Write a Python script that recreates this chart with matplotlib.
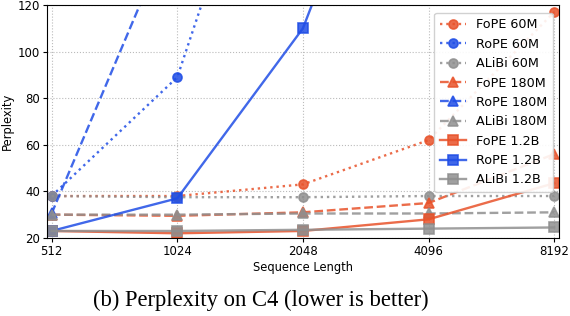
import matplotlib
matplotlib.use("Agg")
import matplotlib.pyplot as plt

seq_len = [512, 1024, 2048, 4096, 8192]

fope_60m = [38, 38, 43, 62, 117]
rope_60m = [38, 89, 250, 600, 1200]
alibi_60m = [38, 37.5, 37.5, 38, 38]

fope_180m = [30, 29.5, 31, 35, 56]
rope_180m = [30.5, 158, 400, 900, 1500]
alibi_180m = [30, 30, 30.5, 30.5, 31]

fope_1b = [23, 22, 23, 28, 43.5]
rope_1b = [23, 37, 110, 250, 600]
alibi_1b = [23, 23, 23.5, 24, 24.5]

orange = "#e8522a"
blue = "#1f4de6"
gray = "#8f8f8f"

series = [
    ("FoPE 60M", fope_60m, orange, ":", "o"),
    ("RoPE 60M", rope_60m, blue, ":", "o"),
    ("ALiBi 60M", alibi_60m, gray, ":", "o"),
    ("FoPE 180M", fope_180m, orange, "--", "^"),
    ("RoPE 180M", rope_180m, blue, "--", "^"),
    ("ALiBi 180M", alibi_180m, gray, "--", "^"),
    ("FoPE 1.2B", fope_1b, orange, "-", "s"),
    ("RoPE 1.2B", rope_1b, blue, "-", "s"),
    ("ALiBi 1.2B", alibi_1b, gray, "-", "s"),
]

fig = plt.figure(figsize=(5.7, 3.16), dpi=100)
ax = fig.add_axes([0.083, 0.247, 0.898, 0.737])

for name, vals, c, ls, m in series:
    ax.plot(seq_len, vals, linestyle=ls, marker=m, color=c, label=name,
            linewidth=1.7, markersize=6.5, alpha=0.85,
            markerfacecolor=c, markeredgecolor=c, markeredgewidth=1.2)

ax.set_xscale("log", base=2)
ax.set_xticks(seq_len)
ax.set_xticklabels([str(v) for v in seq_len])
ax.minorticks_off()
ax.set_xlim(500, 8420)
ax.set_ylim(20, 120)
ax.set_yticks([20, 40, 60, 80, 100, 120])
ax.tick_params(labelsize=8.5, length=3, pad=2)
ax.grid(True, linestyle=":", color="#bbbbbb", linewidth=0.8)
ax.set_xlabel("Sequence Length", fontsize=8.3, labelpad=2)
ax.set_ylabel("Perplexity", fontsize=8.3, labelpad=3)

ax.legend(loc="upper right", fontsize=9.2, handlelength=2.0,
          labelspacing=0.5, borderpad=0.45, framealpha=0.9,
          bbox_to_anchor=(1.0, 0.995))

fig.text(0.458, 0.05, "(b) Perplexity on C4 (lower is better)",
         fontsize=16.3, family="Liberation Serif", ha="center", va="center")

fig.savefig("out.png", dpi=100)
